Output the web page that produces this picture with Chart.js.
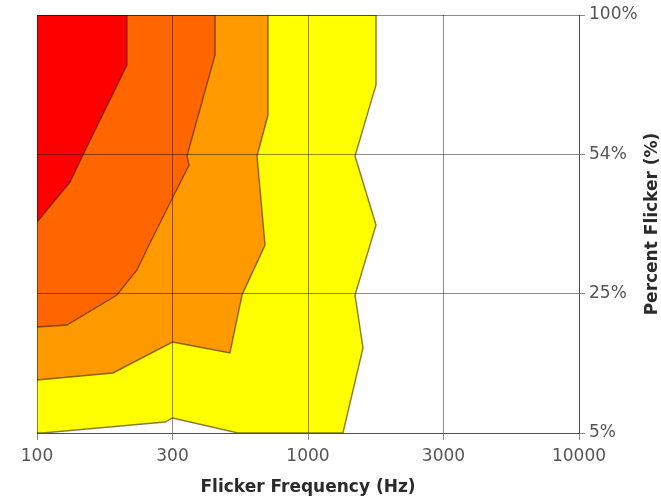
<!DOCTYPE html>
<html>
<head>
<meta charset="utf-8">
<script src="https://cdn.jsdelivr.net/npm/chart.js@4.4.1/dist/chart.umd.min.js"></script>
<style>
  html, body { margin: 0; padding: 0; background: #fff; }
  #wrap { width: 661px; height: 501px; }
</style>
</head>
<body>
<div id="wrap"><canvas id="chart"></canvas></div>
<script>
/* Flicker contour — frequency vs percent flicker */

const FREQ_TICKS = ["100", "300", "1000", "3000", "10000"];
const FLICKER_TICKS = ["5%", "25%", "54%", "100%"];

// contour zones, x = frequency tick index, y = flicker tick index
const redZone = [[0, 3], [0.664, 3], [0.664, 2.641], [0.339, 1.995], [0.244, 1.801], [0, 1.514]];
const orangeRedZone = [[0, 3], [1.314, 3], [1.314, 2.713], [1.107, 1.988], [1.122, 1.923], [1.0, 1.687],
  [0.834, 1.364], [0.738, 1.17], [0.59, 0.99], [0.221, 0.775], [0, 0.761]];
const orangeZone = [[0, 3], [1.705, 3], [1.705, 2.282], [1.624, 1.988], [1.683, 1.349], [1.513, 0.99],
  [1.424, 0.574], [1.0, 0.653], [0.561, 0.431], [0, 0.38]];
const yellowZone = [[0, 3], [2.502, 3], [2.502, 2.498], [2.347, 1.988], [2.502, 1.493], [2.347, 0.99],
  [2.406, 0.61], [2.258, 0], [1.483, 0], [1.0, 0.108], [0.945, 0.079], [0.044, 0], [0, 0]];

const ZONE_COLORS = ["#ff0000", "#ff6600", "#ff9900", "#ffff00"];
const EDGE = "rgba(60,30,0,0.6)";
const GRID = "rgba(0,0,0,0.45)";

Chart.defaults.font.family = "'DejaVu Sans', sans-serif";

function zone(pts, color) {
  return {
    data: pts.map(([x, y]) => ({ x, y })),
    showLine: true,
    fill: "shape",
    backgroundColor: color,
    borderColor: EDGE,
    borderWidth: 1.4,
    pointRadius: 0,
    tension: 0,
  };
}

// right axis title reads bottom-to-top, so draw it by hand
const yTitle = {
  id: "yTitle",
  afterDraw(chart) {
    const { ctx, chartArea } = chart;
    ctx.save();
    ctx.translate(657, (chartArea.top + chartArea.bottom) / 2);
    ctx.rotate(-Math.PI / 2);
    ctx.font = "bold 17px 'DejaVu Sans'";
    ctx.fillStyle = "#2a2a2a";
    ctx.textAlign = "center";
    ctx.textBaseline = "alphabetic";
    ctx.fillText("Percent Flicker (%)", 0, 0);
    ctx.restore();
  },
};

new Chart(document.getElementById("chart"), {
  type: "scatter",
  data: {
    datasets: [
      zone(redZone, ZONE_COLORS[0]),
      zone(orangeRedZone, ZONE_COLORS[1]),
      zone(orangeZone, ZONE_COLORS[2]),
      zone(yellowZone, ZONE_COLORS[3]),
    ],
  },
  options: {
    responsive: true,
    maintainAspectRatio: false,
    animation: false,
    events: [],
    layout: { padding: { left: 37, top: 15, right: 0, bottom: 0 } },
    plugins: { legend: { display: false }, tooltip: { enabled: false } },
    scales: {
      x: {
        type: "linear",
        min: 0,
        max: 4,
        afterFit: (s) => { s.height = 68; },
        ticks: {
          stepSize: 1,
          padding: 6,
          color: "#555",
          font: { size: 17 },
          maxRotation: 0,
          callback: (v) => FREQ_TICKS[v],
        },
        grid: { color: GRID, tickColor: GRID, tickLength: 7, z: 1 },
        border: { color: GRID, z: 1 },
        title: {
          display: true,
          text: "Flicker Frequency (Hz)",
          color: "#2a2a2a",
          font: { size: 17, weight: "bold" },
          padding: { top: 0, bottom: 3 },
        },
      },
      y: {
        type: "linear",
        position: "right",
        min: 0,
        max: 3,
        afterFit: (s) => { s.width = 82; },
        ticks: {
          stepSize: 1,
          padding: 4,
          color: "#555",
          font: { size: 17 },
          callback: (v) => FLICKER_TICKS[v],
        },
        grid: { color: GRID, tickColor: GRID, tickLength: 6, z: 1 },
        border: { color: GRID, z: 1 },
      },
    },
  },
  plugins: [yTitle],
});
</script>
</body>
</html>
